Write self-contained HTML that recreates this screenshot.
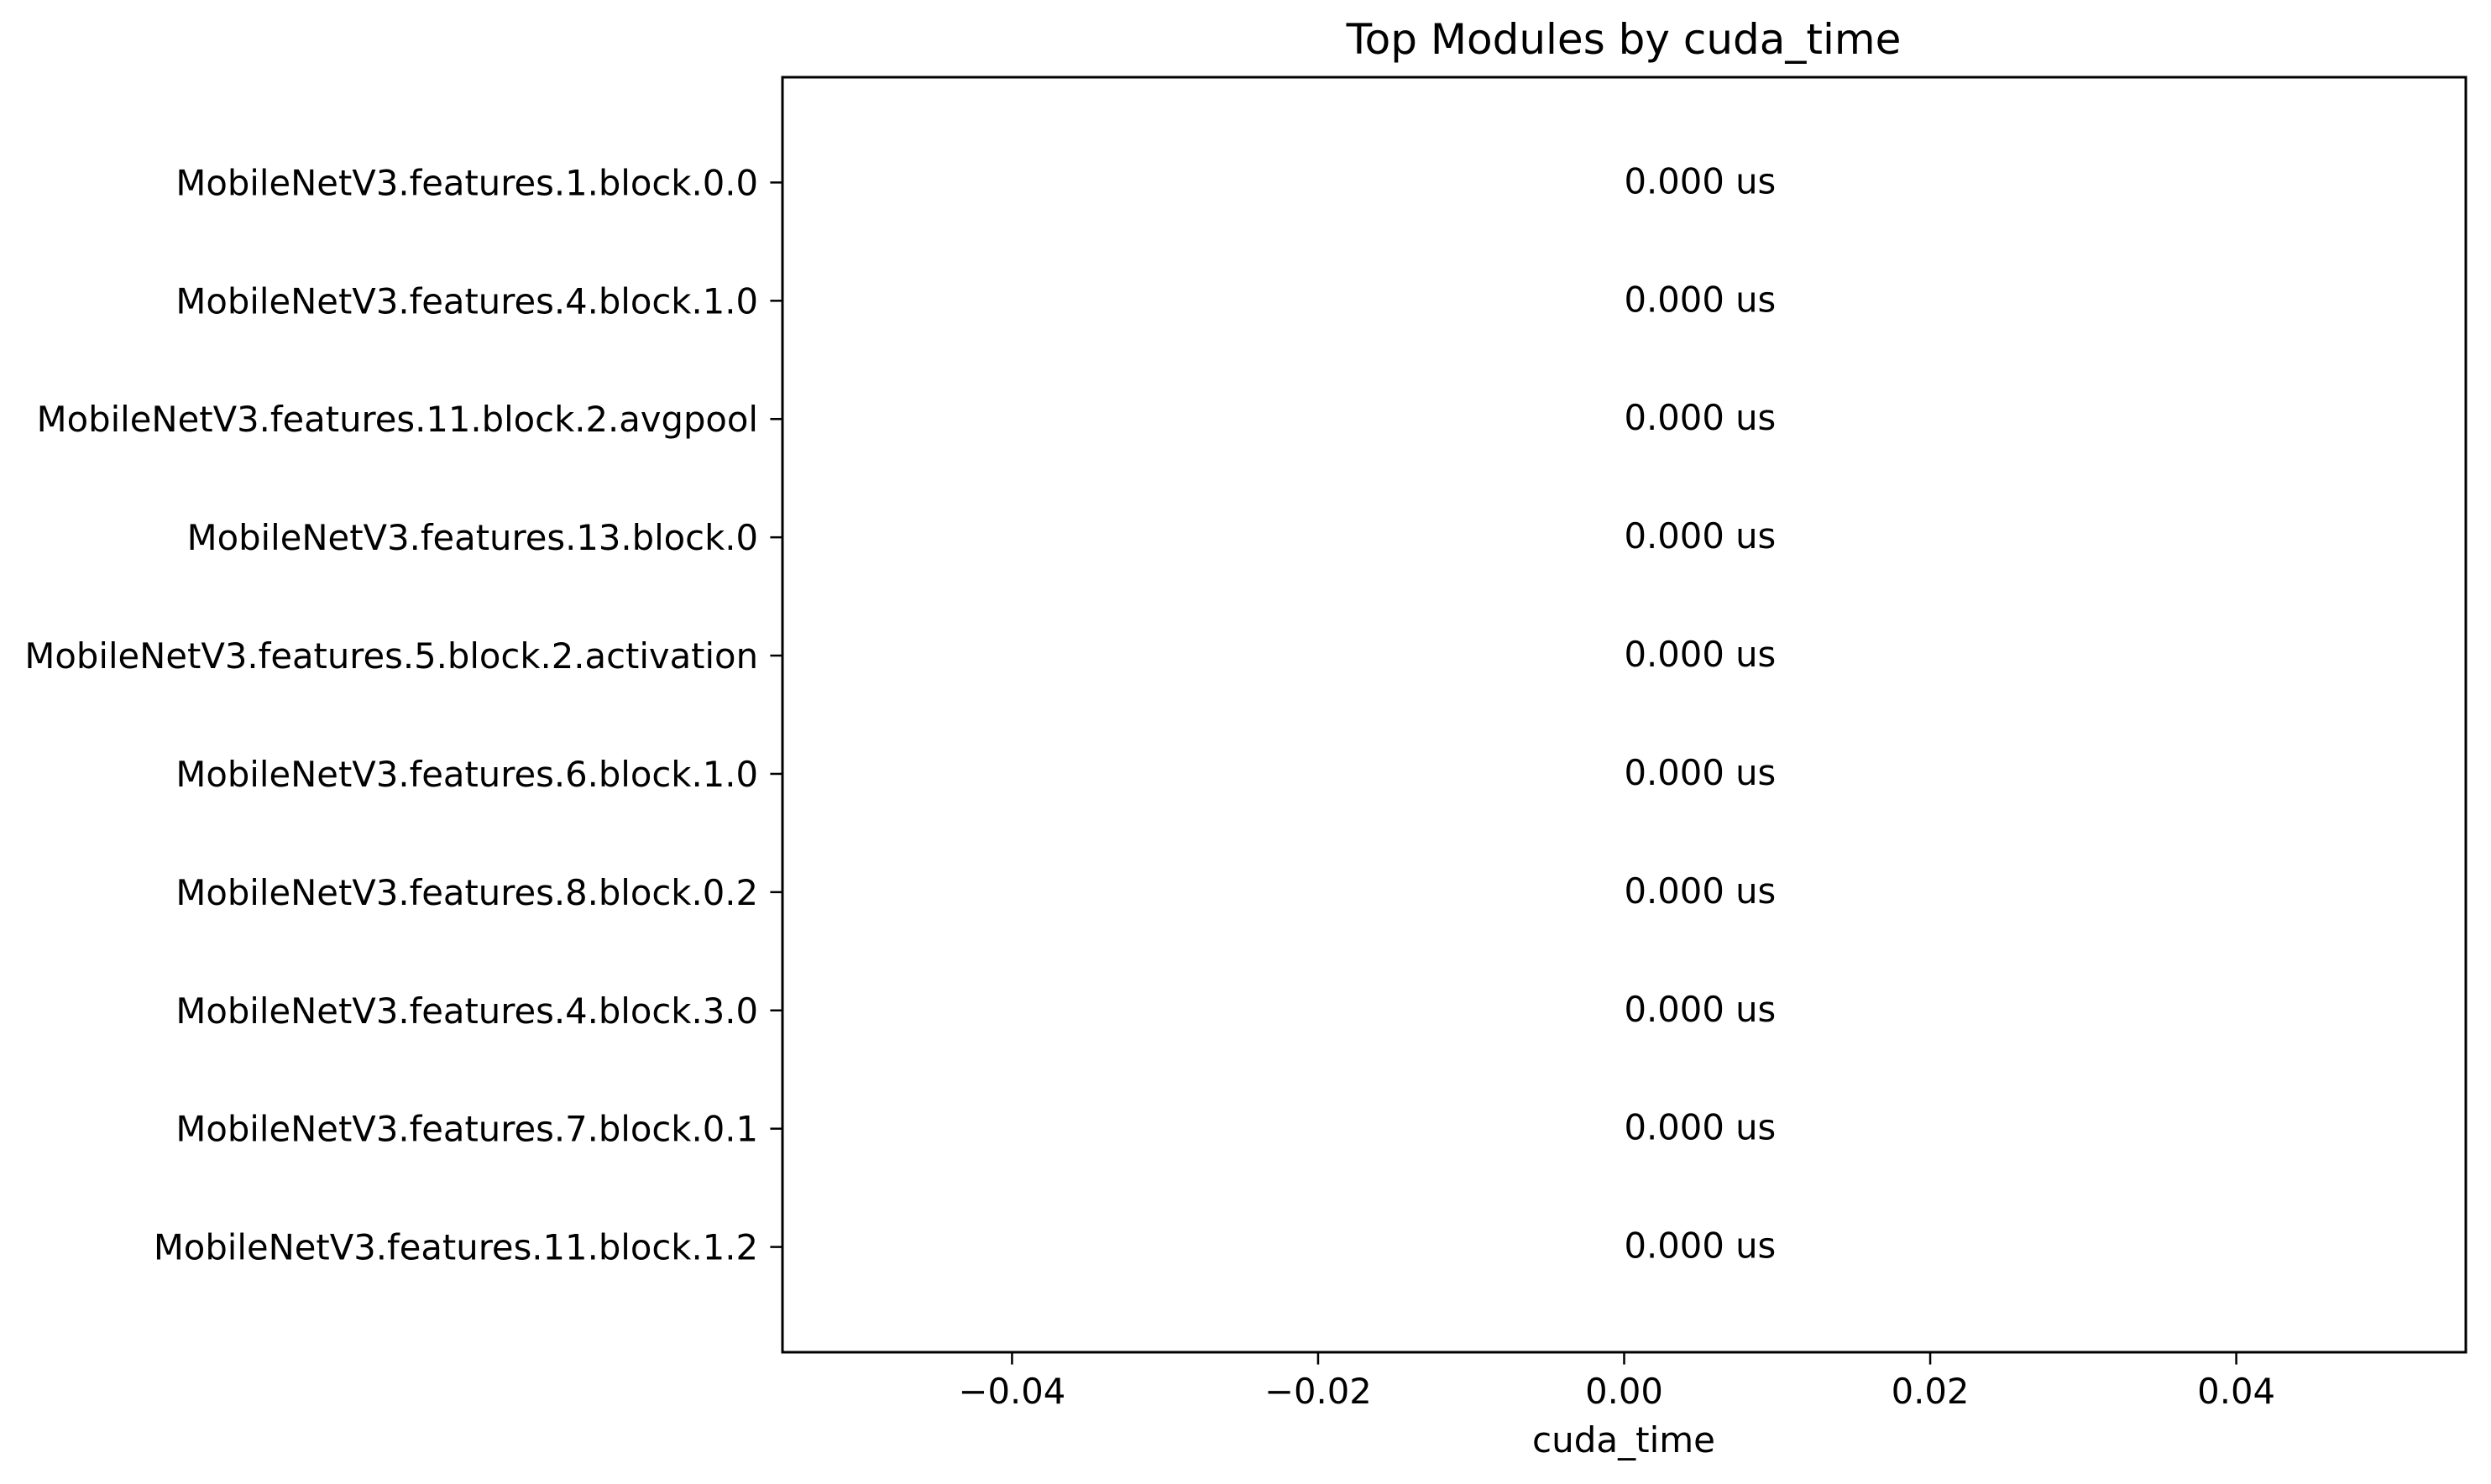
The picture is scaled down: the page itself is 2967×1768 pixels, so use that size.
<!DOCTYPE html>
<html><head><meta charset="utf-8"><style>
html,body{margin:0;padding:0;background:#fff;}
svg{display:block;}
text{font-family:"DejaVu Sans","Liberation Sans",sans-serif;fill:#000;}
</style></head><body>
<svg id="chart" width="2967" height="1768" viewBox="0 0 2967 1768">
<rect x="0" y="0" width="2967" height="1768" fill="#fff"/>
<text x="1934" y="64" font-size="50" text-anchor="middle">Top Modules by cuda_time</text>
<g id="bars"></g>
<g id="yticks"></g>
<g id="xticks"></g>
<g id="vlabels"></g>
<rect x="932" y="92" width="2005" height="1519" fill="none" stroke="#000" stroke-width="3"/>
<text x="1934" y="1730" font-size="42" text-anchor="middle">cuda_time</text>
</svg>
<script>
const categories = ["MobileNetV3.features.1.block.0.0","MobileNetV3.features.4.block.1.0","MobileNetV3.features.11.block.2.avgpool","MobileNetV3.features.13.block.0","MobileNetV3.features.5.block.2.activation","MobileNetV3.features.6.block.1.0","MobileNetV3.features.8.block.0.2","MobileNetV3.features.4.block.3.0","MobileNetV3.features.7.block.0.1","MobileNetV3.features.11.block.1.2"];
const values = [0,0,0,0,0,0,0,0,0,0];
const valueLabels = ["0.000 us","0.000 us","0.000 us","0.000 us","0.000 us","0.000 us","0.000 us","0.000 us","0.000 us","0.000 us"];
const xTicks = [-0.04,-0.02,0,0.02,0.04];
const xTickLabels = ["\u22120.04","\u22120.02","0.00","0.02","0.04"];

const L=932,R=2937,T=92,B=1611;
const xmin=-0.055,xmax=0.055;
const ymin=-0.89,ymax=categories.length-1+0.89;
const xs=v=>L+(v-xmin)/(xmax-xmin)*(R-L);
const ys=i=>T+(i-ymin)/(ymax-ymin)*(B-T);
const NS="http://www.w3.org/2000/svg";
function mk(tag,attrs,parent,txt){const e=document.createElementNS(NS,tag);for(const k in attrs)e.setAttribute(k,attrs[k]);if(txt!==undefined)e.textContent=txt;parent.appendChild(e);return e;}
const gb=document.getElementById('bars'),gy=document.getElementById('yticks'),gx=document.getElementById('xticks'),gv=document.getElementById('vlabels');
categories.forEach((c,i)=>{
  const y=ys(i);
  const x0=xs(Math.min(0,values[i])),x1=xs(Math.max(0,values[i]));
  const r=mk('rect',{x:x0,y:y-0.4*(ys(1)-ys(0)),width:x1-x0,height:0.8*(ys(1)-ys(0)),fill:'#1f77b4'},gb);
  
  
  const tl=mk('line',{x1:L-14.6,x2:L,y1:y,y2:y,stroke:'#000','stroke-width':2.5},gy);
  
  
  const t=mk('text',{x:L-29,y:y+15,'font-size':41.7,'text-anchor':'end'},gy,c);
  
  
  const v=mk('text',{x:xs(values[i]),y:y+13,'font-size':41.7},gv,valueLabels[i]);
  
  
});
xTicks.forEach((t,i)=>{
  const x=xs(t);
  const l=mk('line',{x1:x,x2:x,y1:B,y2:B+14.6,stroke:'#000','stroke-width':2.5},gx);
  
  
  const s=mk('text',{x:x,y:1672,'font-size':41.7,'text-anchor':'middle'},gx,xTickLabels[i]);
  
  
});
</script>
</body></html>
